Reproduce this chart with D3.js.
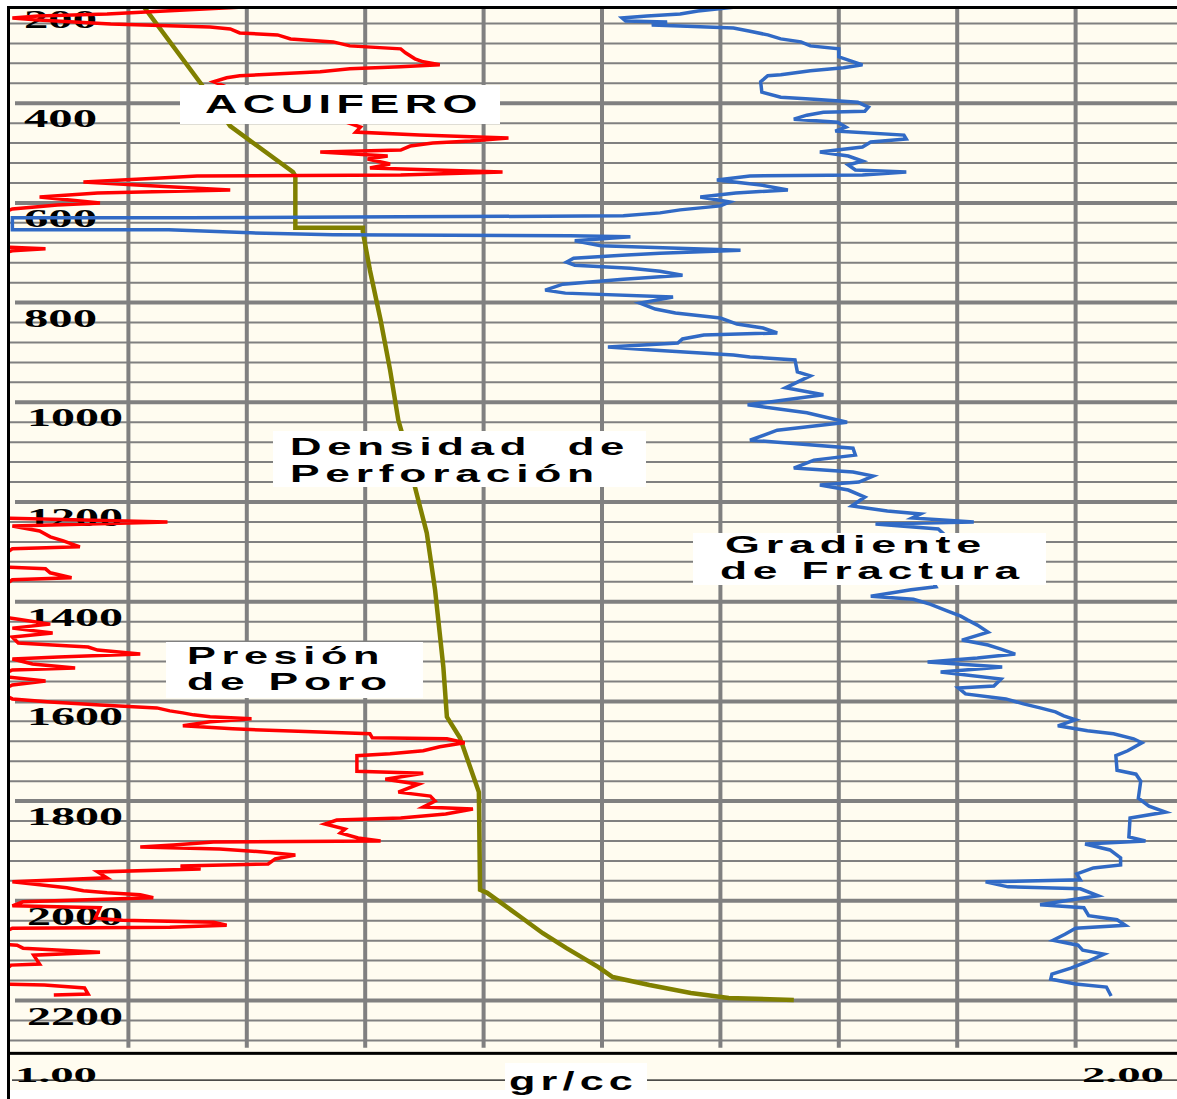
<!DOCTYPE html>
<html>
<head>
<meta charset="utf-8">
<script src="https://cdn.jsdelivr.net/npm/d3@7"></script>
<style>
  body { margin: 0; background: #ffffff; }
  svg { display: block; }
</style>
</head>
<body>
<svg width="1177" height="1099"></svg>
<script>

/**************************** DATA ************************************
 * [gr/cc, depth]
 */

// Presion de Poro (red)
const porePressure = [
  [1.214, 205], [1.131, 215], [1.082, 221], [1.024, 225], [1.002, 229], [1.024, 233],
  [1.085, 241], [1.169, 247], [1.186, 251], [1.194, 259], [1.226, 263], [1.237, 271],
  [1.273, 277], [1.287, 285], [1.330, 291], [1.334, 299], [1.342, 311], [1.349, 317],
  [1.363, 323], [1.330, 327], [1.287, 331], [1.262, 337], [1.194, 345], [1.183, 349],
  [1.172, 357], [1.211, 394], [1.279, 434], [1.296, 448], [1.292, 458], [1.346, 464],
  [1.421, 470], [1.389, 476], [1.357, 480], [1.338, 486], [1.330, 494], [1.262, 498],
  [1.319, 506], [1.302, 512], [1.321, 522], [1.304, 530], [1.416, 538], [1.330, 544],
  [1.158, 546], [1.127, 550], [1.062, 558], [1.107, 564], [1.186, 574], [1.074, 580],
  [1.025, 588], [1.076, 600], [1.040, 604], [1.002, 612], [0.990, 624], [0.990, 688],
  [1.030, 692], [1.002, 696], [0.990, 703], [0.990, 1232], [1.133, 1240], [1.002, 1248],
  [1.025, 1258], [1.034, 1270], [1.045, 1278], [1.059, 1290], [1.002, 1294], [0.990, 1312],
  [0.990, 1330], [1.030, 1334], [1.034, 1342], [1.052, 1352], [1.002, 1356], [0.990, 1376],
  [0.990, 1429], [1.007, 1435], [1.034, 1445], [1.002, 1453], [1.036, 1463], [1.002, 1471],
  [1.007, 1483], [1.036, 1487], [1.066, 1491], [1.074, 1497], [1.110, 1505], [1.041, 1511],
  [1.002, 1515], [1.019, 1525], [1.055, 1533], [1.002, 1537], [0.990, 1549], [1.030, 1559],
  [1.002, 1567], [0.990, 1581], [1.002, 1595], [1.034, 1601], [1.076, 1607], [1.124, 1613],
  [1.135, 1619], [1.146, 1623], [1.155, 1627], [1.169, 1631], [1.204, 1635], [1.169, 1641],
  [1.146, 1649], [1.188, 1655], [1.231, 1659], [1.304, 1665], [1.306, 1673], [1.369, 1675],
  [1.384, 1683], [1.363, 1691], [1.349, 1699], [1.321, 1705], [1.293, 1709], [1.293, 1740],
  [1.349, 1744], [1.317, 1756], [1.345, 1766], [1.328, 1782], [1.355, 1790], [1.359, 1800],
  [1.349, 1812], [1.391, 1816], [1.368, 1826], [1.330, 1834], [1.276, 1838], [1.266, 1846],
  [1.283, 1856], [1.279, 1864], [1.294, 1874], [1.313, 1880], [1.172, 1882], [1.138, 1888],
  [1.110, 1892], [1.177, 1896], [1.214, 1902], [1.241, 1908], [1.224, 1916], [1.218, 1926],
  [1.144, 1930], [1.161, 1936], [1.074, 1942], [1.082, 1954], [1.002, 1962], [1.048, 1974],
  [1.062, 1980], [1.082, 1984], [1.110, 1988], [1.121, 1994], [1.065, 1998], [1.011, 2002],
  [1.002, 2010], [1.076, 2014], [1.072, 2035], [1.095, 2039], [1.172, 2043], [1.183, 2049],
  [1.135, 2053], [1.002, 2055], [0.990, 2069], [0.990, 2087], [1.006, 2089], [1.011, 2095],
  [1.076, 2103], [1.020, 2109], [1.025, 2127], [1.001, 2129], [0.990, 2149], [0.990, 2167],
  [1.029, 2169], [1.063, 2175], [1.066, 2187], [1.037, 2189]
];

// Gradiente de Fractura (blue)
const fractureGradient = [
  [1.621, 205], [1.581, 215], [1.566, 221], [1.538, 225], [1.517, 229], [1.520, 235],
  [1.555, 237], [1.542, 243], [1.566, 245], [1.611, 249], [1.624, 255], [1.640, 263],
  [1.651, 271], [1.668, 277], [1.676, 285], [1.700, 291], [1.700, 307], [1.710, 315],
  [1.720, 323], [1.704, 329], [1.676, 335], [1.651, 343], [1.640, 345], [1.634, 357],
  [1.635, 378], [1.651, 388], [1.679, 392], [1.716, 398], [1.725, 408], [1.722, 416],
  [1.687, 418], [1.673, 424], [1.662, 432], [1.699, 438], [1.706, 448], [1.697, 456],
  [1.755, 464], [1.757, 472], [1.727, 478], [1.720, 488], [1.684, 498], [1.708, 506],
  [1.720, 516], [1.708, 524], [1.714, 534], [1.757, 538], [1.720, 544], [1.625, 546],
  [1.597, 554], [1.634, 564], [1.657, 574], [1.613, 580], [1.583, 588], [1.608, 598],
  [1.600, 606], [1.566, 614], [1.549, 620], [1.518, 626], [1.330, 628], [1.152, 630],
  [1.002, 630], [1.002, 654], [1.134, 654], [1.203, 660], [1.273, 664], [1.473, 666],
  [1.524, 668], [1.477, 676], [1.499, 686], [1.617, 695], [1.549, 701], [1.517, 705],
  [1.476, 711], [1.470, 719], [1.477, 725], [1.524, 731], [1.549, 737], [1.568, 745],
  [1.518, 753], [1.467, 763], [1.452, 775], [1.469, 781], [1.560, 789], [1.532, 801],
  [1.545, 813], [1.562, 821], [1.600, 831], [1.614, 843], [1.636, 851], [1.648, 861],
  [1.586, 865], [1.568, 873], [1.564, 881], [1.505, 889], [1.542, 895], [1.611, 905],
  [1.625, 909], [1.663, 915], [1.665, 939], [1.676, 947], [1.655, 971], [1.687, 985],
  [1.623, 1005], [1.673, 1021], [1.707, 1040], [1.648, 1056], [1.625, 1076], [1.712, 1092],
  [1.714, 1106], [1.679, 1116], [1.662, 1132], [1.712, 1140], [1.729, 1148], [1.717, 1160],
  [1.684, 1166], [1.708, 1176], [1.722, 1190], [1.711, 1208], [1.741, 1218], [1.769, 1224],
  [1.762, 1232], [1.814, 1240], [1.731, 1244], [1.784, 1254], [1.794, 1276], [1.769, 1316],
  [1.782, 1370], [1.761, 1376], [1.727, 1389], [1.763, 1395], [1.777, 1405], [1.792, 1419],
  [1.803, 1429], [1.809, 1437], [1.817, 1447], [1.826, 1461], [1.804, 1477], [1.826, 1487],
  [1.837, 1495], [1.849, 1505], [1.817, 1513], [1.775, 1521], [1.838, 1531], [1.786, 1541],
  [1.837, 1555], [1.831, 1569], [1.801, 1573], [1.807, 1585], [1.841, 1595], [1.856, 1605],
  [1.870, 1613], [1.883, 1621], [1.890, 1629], [1.900, 1637], [1.885, 1649], [1.910, 1659],
  [1.932, 1665], [1.949, 1675], [1.956, 1683], [1.944, 1699], [1.934, 1709], [1.935, 1738],
  [1.951, 1746], [1.955, 1760], [1.953, 1794], [1.962, 1810], [1.976, 1822], [1.946, 1834],
  [1.945, 1872], [1.959, 1880], [1.908, 1886], [1.929, 1898], [1.938, 1914], [1.938, 1928],
  [1.915, 1934], [1.901, 1946], [1.904, 1958], [1.824, 1962], [1.843, 1972], [1.904, 1976],
  [1.919, 1990], [1.897, 1998], [1.870, 2008], [1.907, 2014], [1.911, 2030], [1.935, 2038],
  [1.942, 2049], [1.900, 2055], [1.891, 2067], [1.881, 2079], [1.902, 2089], [1.906, 2099],
  [1.924, 2107], [1.911, 2121], [1.896, 2135], [1.880, 2147], [1.879, 2157], [1.900, 2167],
  [1.926, 2173], [1.930, 2191]
];

// Densidad de Perforacion (olive)
const mudDensity = [
  [1.111, 200], [1.161, 360], [1.186, 446], [1.239, 538], [1.241, 546], [1.241, 650],
  [1.298, 650], [1.298, 658], [1.304, 735], [1.313, 835], [1.321, 935], [1.328, 1036],
  [1.334, 1086], [1.342, 1170], [1.352, 1262], [1.359, 1376], [1.366, 1531], [1.369, 1631],
  [1.380, 1673], [1.396, 1782], [1.397, 1978], [1.403, 1984], [1.431, 2032], [1.450, 2065],
  [1.470, 2095], [1.497, 2133], [1.509, 2153], [1.540, 2169], [1.575, 2185], [1.607, 2195],
  [1.662, 2199]
];

// axis stuff
const depthTicks = [200, 400, 600, 800, 1000, 1200, 1400, 1600, 1800, 2000, 2200];
const densityGrid = [1.1, 1.2, 1.3, 1.4, 1.5, 1.6, 1.7, 1.8, 1.9];
const densityEnds = ['1.00', '2.00'];
const unitLabel = 'gr/cc';

// labels on the curves
const noteTexts = [
  ['ACUIFERO'],
  ['Densidad  de', 'Perforación'],
  ['Presión', 'de Poro'],
  ['Gradiente', 'de Fractura']
];


/**************************** DRAW ************************************/
let svg = d3.select('svg');
let W = 1177, H = 1099;

let cream = '#fffcf0';
let grey = '#808080';

// Scales: gr/cc across, depth downwards
let xScale = d3.scaleLinear().domain([1.0, 2.0]).range([10, 1194]);
let yScale = d3.scaleLinear().domain([200, 2200]).range([3.5, 1000.5]);

let plotTop = 9, plotBottom = yScale(2303);

// background
svg.append('rect').attr('x', 0).attr('y', 0).attr('width', W).attr('height', H).attr('fill', '#ffffff');
svg.append('rect').attr('x', 10).attr('y', plotTop).attr('width', W - 10).attr('height', 1090 - plotTop).attr('fill', cream);

// clip for the curves
svg.append('clipPath').attr('id', 'plotClip')
  .append('rect').attr('x', 10).attr('y', plotTop).attr('width', W - 10).attr('height', plotBottom - plotTop);

/********************** GRID ********************************** */
let grid = svg.append('g');

// minor depth lines every 40 m
let minor = d3.range(240, 2300, 40).filter(d => d % 200 !== 0);
grid.selectAll('line.minor')
  .data(minor)
  .enter()
  .append('line')
    .attr('x1', 10).attr('x2', W)
    .attr('y1', d => yScale(d)).attr('y2', d => yScale(d))
    .attr('stroke', grey).attr('stroke-width', 2);

// major depth lines
grid.selectAll('line.major')
  .data(depthTicks.slice(1))
  .enter()
  .append('line')
    .attr('x1', 15).attr('x2', W)
    .attr('y1', d => yScale(d)).attr('y2', d => yScale(d))
    .attr('stroke', grey).attr('stroke-width', 4);

// vertical lines each 0.1 gr/cc
grid.selectAll('line.vert')
  .data(densityGrid)
  .enter()
  .append('line')
    .attr('x1', d => xScale(d)).attr('x2', d => xScale(d))
    .attr('y1', plotTop).attr('y2', plotBottom - 4)
    .attr('stroke', grey).attr('stroke-width', 4);

// depth labels (sit under their line)
svg.selectAll('text.depth')
  .data(depthTicks)
  .enter()
  .append('text')
    .attr('x', d => d < 1000 ? 24 : 27)
    .attr('y', d => yScale(d) + 24)
    .attr('textLength', d => d < 1000 ? 73 : 96)
    .attr('lengthAdjust', 'spacingAndGlyphs')
    .style('font-family', '"Liberation Serif", "DejaVu Serif", serif')
    .style('font-weight', 'bold')
    .style('font-size', '25px')
    .attr('fill', '#000')
    .text(d => d);

/********************** CURVES ********************************** */
let line = d3.line()
  .x(d => xScale(d[0]))
  .y(d => yScale(d[1]));

let curves = svg.append('g').attr('clip-path', 'url(#plotClip)');

curves.append('path')
  .datum(mudDensity)
  .attr('d', line)
  .attr('fill', 'none')
  .attr('stroke', '#808000')
  .attr('stroke-width', 4.5);

curves.append('path')
  .datum(porePressure)
  .attr('d', line)
  .attr('fill', 'none')
  .attr('stroke', '#ff0000')
  .attr('stroke-width', 3.5);

curves.append('path')
  .datum(fractureGradient)
  .attr('d', line)
  .attr('fill', 'none')
  .attr('stroke', '#316ac5')
  .attr('stroke-width', 3.5);

/********************** FRAME ********************************** */
svg.append('rect').attr('x', 7).attr('y', 6).attr('width', W - 7).attr('height', 3).attr('fill', '#000');
svg.append('rect').attr('x', 7).attr('y', 6).attr('width', 3).attr('height', H - 6).attr('fill', '#000');
svg.append('rect').attr('x', 10).attr('y', plotBottom).attr('width', W - 10).attr('height', 3).attr('fill', '#000');
svg.append('rect').attr('x', 12).attr('y', 1079.5).attr('width', W - 12).attr('height', 1.2).attr('fill', '#000');
svg.append('rect').attr('x', 10).attr('y', 1090).attr('width', W - 10).attr('height', H - 1090).attr('fill', '#fff');

/********************** NOTES ********************************** */
// box: x, y, w, h ; text starts / baselines / widths per line
let noteLayout = [
  { box: [180, 85, 320, 39],  x: [205],      y: [113],      len: [278] },
  { box: [273, 431, 373, 56], x: [290, 290], y: [455, 482], len: [340, 310] },
  { box: [166, 642, 257, 56], x: [187, 187], y: [664, 690], len: [198, 206] },
  { box: [693, 533, 353, 52], x: [725, 720], y: [553, 579], len: [262, 305] }
];

noteTexts.forEach((lines, i) => {
  let lay = noteLayout[i];
  let g = svg.append('g');
  g.append('rect')
    .attr('x', lay.box[0]).attr('y', lay.box[1])
    .attr('width', lay.box[2]).attr('height', lay.box[3])
    .attr('fill', '#ffffff');
  // one text per note, one tspan per line
  let txt = g.append('text')
    .style('white-space', 'pre')
    .style('font-family', '"Liberation Sans", Arial, sans-serif')
    .style('font-weight', 'bold')
    .style('font-size', lines.length > 1 ? '23px' : '25px')
    .style('letter-spacing', '3px')
    .attr('fill', '#000');
  lines.forEach((t, j) => {
    txt.append('tspan')
      .attr('x', lay.x[j])
      .attr('y', lay.y[j])
      .attr('textLength', lay.len[j])
      .attr('lengthAdjust', 'spacingAndGlyphs')
      .text(t);
  });
});

/********************** BOTTOM LABELS ********************************** */
let endX = [15, 1082];
svg.selectAll('text.end')
  .data(densityEnds)
  .enter()
  .append('text')
    .attr('x', (d, i) => endX[i])
    .attr('y', 1082)
    .attr('textLength', 82)
    .attr('lengthAdjust', 'spacingAndGlyphs')
    .style('font-family', '"Liberation Serif", "DejaVu Serif", serif')
    .style('font-weight', 'bold')
    .style('font-size', '22px')
    .attr('fill', '#000')
    .text(d => d);

svg.append('rect').attr('x', 505).attr('y', 1063).attr('width', 142).attr('height', H - 1063).attr('fill', '#fff');
svg.append('text')
  .attr('x', 509)
  .attr('y', 1090)
  .attr('textLength', 129)
  .attr('lengthAdjust', 'spacingAndGlyphs')
  .style('font-family', '"Liberation Sans", Arial, sans-serif')
  .style('font-weight', 'bold')
  .style('font-size', '25px')
  .style('letter-spacing', '3px')
  .attr('fill', '#000')
  .text(unitLabel);

</script>
</body>
</html>
